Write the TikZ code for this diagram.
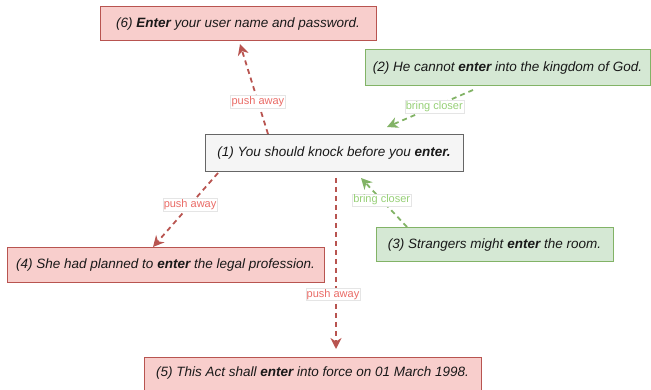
\documentclass[tikz,border=0pt]{standalone}
\usepackage{fontspec}
\setmainfont{Liberation Sans}
\usetikzlibrary{arrows.meta}
\definecolor{redfill}{HTML}{F8CECC}
\definecolor{redline}{HTML}{B85450}
\definecolor{greenfill}{HTML}{D5E8D4}
\definecolor{greenline}{HTML}{82B366}
\definecolor{grayfill}{HTML}{F5F5F5}
\definecolor{grayline}{HTML}{666666}
\definecolor{redlabel}{HTML}{EA6B66}
\definecolor{greenlabel}{HTML}{97D077}
\begin{document}
\begin{tikzpicture}[x=1pt,y=-1pt,
  box/.style={draw, line width=1pt, inner sep=0pt, font=\fontsize{13.5}{15}\selectfont\itshape, text=black!90},
  redbox/.style={box, fill=redfill, draw=redline},
  greenbox/.style={box, fill=greenfill, draw=greenline},
  graybox/.style={box, fill=grayfill, draw=grayline},
  push/.style={draw=redline, line width=1.8pt, dash pattern=on 5pt off 4pt, -{Stealth[length=11pt,width=11pt,inset=3.5pt]}},
  closer/.style={draw=greenline, line width=1.8pt, dash pattern=on 5pt off 4pt, -{Stealth[length=11pt,width=11pt,inset=3.5pt]}},
  lbl/.style={fill=white, draw=black!10, solid, line width=0.4pt, inner sep=1pt, font=\fontsize{11}{12}\selectfont},
  pushlbl/.style={lbl, text=redlabel},
  closerlbl/.style={lbl, text=greenlabel},
]
\useasboundingbox (0,0) rectangle (651,390);
\node[redbox, minimum width=276pt, minimum height=34pt] (n6) at (238,24) {(6) \textbf{Enter} your user name and password.};
\node[greenbox, minimum width=285pt, minimum height=36pt] (n2) at (507.5,68) {(2) He cannot \textbf{enter} into the kingdom of God.};
\node[graybox, minimum width=258pt, minimum height=37pt] (n1) at (334,153.5) {(1) You should knock before you \textbf{enter.}};
\node[redbox, minimum width=317pt, minimum height=35pt] (n4) at (165.5,265.5) {(4) She had planned to \textbf{enter} the legal profession.};
\node[greenbox, minimum width=237pt, minimum height=34pt] (n3) at (494.5,245) {(3) Strangers might \textbf{enter} the room.};
\node[redbox, minimum width=337pt, minimum height=33pt] (n5) at (312.5,373.5) {(5) This Act shall \textbf{enter} into force on 01 March 1998.};

\coordinate (a1s) at (268,134);
\coordinate (a1e) at (240,44);
\draw[push] (a1s) -- node[pushlbl, pos=0.36] (l1) {push away} (a1e);

\coordinate (a2s) at (473,90);
\coordinate (a2e) at (387,127);
\draw[closer] (a2s) -- node[closerlbl, pos=0.45] (l2) {bring closer} (a2e);

\coordinate (a3s) at (218,173);
\coordinate (a3e) at (153,247);
\draw[push] (a3s) -- node[pushlbl, pos=0.43] (l3) {push away} (a3e);

\coordinate (a4s) at (336,178);
\coordinate (a4e) at (336,349);
\draw[push] (a4s) -- node[pushlbl, pos=0.68, xshift=-3pt] (l4) {push away} (a4e);

\coordinate (a5s) at (407,227);
\coordinate (a5e) at (361,178);
\draw[closer] (a5s) -- node[closerlbl, pos=0.55] (l5) {bring closer} (a5e);
\end{tikzpicture}
\end{document}
